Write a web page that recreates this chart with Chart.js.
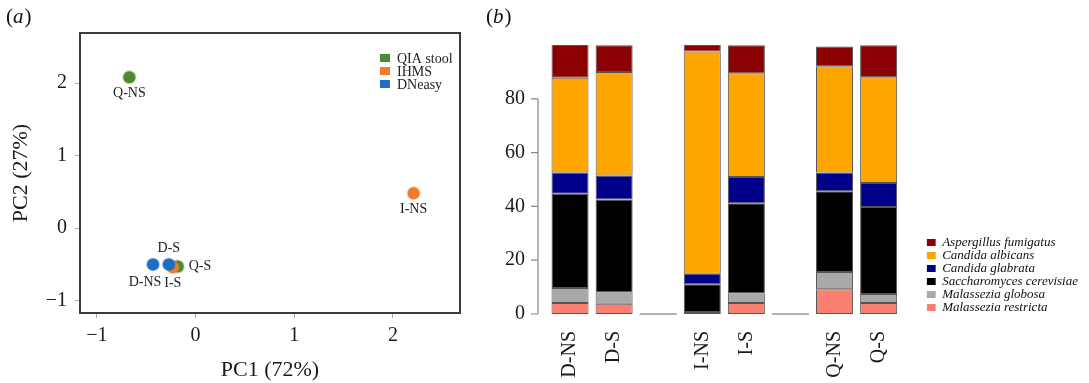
<!DOCTYPE html>
<html>
<head>
<meta charset="utf-8">
<script src="https://cdn.jsdelivr.net/npm/chart.js@4.4.0/dist/chart.umd.min.js"></script>
<style>
  html, body { margin: 0; padding: 0; background: #fff; }
  #wrap { position: relative; width: 1089px; height: 383px; }
  #pca { position: absolute; left: 0; top: 0; }
  #bars { position: absolute; left: 480px; top: 0; }
</style>
</head>
<body>
<div id="wrap">
  <canvas id="pca" width="480" height="383"></canvas>
  <canvas id="bars" width="609" height="383"></canvas>
</div>
<script>
// ---- panel (a): PCA of the samples
const sampleNames = ['Q-NS', 'I-NS', 'D-NS', 'D-S', 'I-S', 'Q-S']
const pc1 = [-0.67, 2.21, -0.43, -0.27, -0.23, -0.18]
const pc2 = [2.08, 0.48, -0.50, -0.50, -0.54, -0.53]
const sampleKit = ['QIA stool', 'IHMS', 'DNeasy', 'DNeasy', 'IHMS', 'QIA stool']
const kits = ['QIA stool', 'IHMS', 'DNeasy']
const kitColors = ['#4f8a2e', '#ee7b30', '#1c6fc2']
// where the name of each sample sits next to its dot
const labelSide = ['below', 'below', 'belowleft', 'above', 'below', 'right']

// ---- panel (b): relative abundance (%), stacked bottom to top
const barLabels = ['D-NS', 'D-S', '', 'I-NS', 'I-S', '', 'Q-NS', 'Q-S']
const species = ['Malassezia restricta', 'Malassezia globosa', 'Saccharomyces cerevisiae',
  'Candida glabrata', 'Candida albicans', 'Aspergillus fumigatus']
const restricta  = [4.1, 3.8, null, 0.7, 4.1, null, 9.2, 4.1]
const globosa    = [5.6, 4.2, null, null, 3.5, null, 6.4, 3.3]
const cerevisiae = [35.0, 34.6, null, 10.4, 33.6, null, 30.0, 32.4]
const glabrata   = [7.9, 8.9, null, 3.9, 9.7, null, 7.0, 8.9]
const albicans   = [35.2, 38.5, null, 82.6, 38.6, null, 39.5, 39.3]
const fumigatus  = [12.5, 9.9, null, 2.7, 10.4, null, 7.3, 11.9]
const speciesValues = [restricta, globosa, cerevisiae, glabrata, albicans, fumigatus]
const speciesColors = ['#fa8072', '#a9a9a9', '#000000', '#00008b', '#ffa500', '#8b0000']

const SERIF = "'Liberation Serif', 'Times New Roman', serif"
Chart.defaults.font.family = SERIF
Chart.defaults.color = '#1a1a1a'

function minus(v) {
  return String(v).replace('-', '\u2212')
}

// "(a)" / "(b)" with an italic letter
function panelTag(ctx, x, y, letter) {
  ctx.save()
  ctx.fillStyle = '#111'
  ctx.textBaseline = 'alphabetic'
  ctx.font = '21px ' + SERIF
  ctx.fillText('(', x, y)
  x += ctx.measureText('(').width
  ctx.font = 'italic 21px ' + SERIF
  ctx.fillText(letter, x, y)
  x += ctx.measureText(letter).width + 1
  ctx.font = '21px ' + SERIF
  ctx.fillText(')', x, y)
  ctx.restore()
}

// ---------- chart (a)
const pcaDatasets = kits.map((kit, k) => ({
  label: kit,
  data: pc1.map((x, i) => ({x: x, y: pc2[i], i: i})).filter(p => sampleKit[p.i] === kit),
  backgroundColor: kitColors[k],
  borderColor: kitColors[k] + '55',
  borderWidth: 2,
  pointRadius: 6,
  pointHoverRadius: 6,
  order: 3 - k,
}))

const pcaExtras = {
  id: 'pcaExtras',
  afterDraw(chart) {
    const ctx = chart.ctx
    const a = chart.chartArea
    ctx.save()
    // box round the plot
    ctx.strokeStyle = '#3c3c3c'
    ctx.lineWidth = 2
    ctx.strokeRect(a.left, a.top, a.right - a.left, a.bottom - a.top)

    // sample names
    ctx.font = '14px ' + SERIF
    ctx.fillStyle = '#222'
    ctx.textBaseline = 'middle'
    chart.data.datasets.forEach((ds, d) => {
      chart.getDatasetMeta(d).data.forEach((pt, j) => {
        const i = ds.data[j].i
        const side = labelSide[i]
        let x = pt.x, y = pt.y
        ctx.textAlign = 'center'
        if (side === 'below') y += 16
        if (side === 'above') y -= 16
        if (side === 'belowleft') { x -= 8; y += 18 }
        if (side === 'right') { x += 11; ctx.textAlign = 'left' }
        ctx.fillText(sampleNames[i], x, y)
      })
    })

    // legend in the top right corner
    ctx.textAlign = 'left'
    kits.forEach((kit, k) => {
      const y = a.top + 25 + k * 13
      ctx.fillStyle = kitColors[k]
      ctx.fillRect(a.right - 80, y - 4, 10, 8)
      ctx.fillStyle = '#222'
      ctx.fillText(kit, a.right - 63, y + 1)
    })
    ctx.restore()
    panelTag(ctx, 6, 23, 'a')
  }
}

new Chart(document.getElementById('pca').getContext('2d'), {
  type: 'scatter',
  data: {datasets: pcaDatasets},
  options: {
    responsive: false,
    animation: false,
    layout: {padding: {top: 33, right: 20, left: 0, bottom: 0}},
    plugins: {legend: {display: false}, tooltip: {enabled: false}},
    scales: {
      x: {
        min: -1.17, max: 2.68,
        ticks: {stepSize: 1, includeBounds: false, padding: 6, font: {size: 20}, callback: minus},
        grid: {drawOnChartArea: false, tickLength: 5, color: '#aaa'},
        border: {display: false},
        title: {display: true, text: 'PC1 (72%)', font: {size: 22}, padding: {top: 0, bottom: 0}},
        afterFit: s => { s.height = 70 },
      },
      y: {
        min: -1.17, max: 2.69,
        ticks: {stepSize: 1, includeBounds: false, padding: 8, font: {size: 20}, callback: minus},
        grid: {drawOnChartArea: false, tickLength: 5, color: '#aaa'},
        border: {display: false},
        title: {display: true, text: 'PC2 (27%)', font: {size: 22}, padding: {top: 8, bottom: 0}},
        afterFit: s => { s.width = 80 },
      },
    },
  },
  plugins: [pcaExtras],
})

// ---------- chart (b)
const barDatasets = species.map((name, s) => ({
  label: name,
  data: speciesValues[s],
  backgroundColor: speciesColors[s],
  borderColor: '#555',
  borderWidth: 1,
  borderSkipped: false,
  categoryPercentage: 1,
  barPercentage: 0.84,
}))

const barExtras = {
  id: 'barExtras',
  afterDraw(chart) {
    const ctx = chart.ctx
    const a = chart.chartArea
    const y = chart.scales.y
    const x = chart.scales.x
    ctx.save()
    // R style axis: line from 0 to the last tick only, a little off the bars
    const ax = a.left - 10
    const ticks = y.ticks.map(t => y.getPixelForValue(t.value))
    ctx.strokeStyle = '#888'
    ctx.lineWidth = 1.2
    ctx.beginPath()
    ctx.moveTo(ax, Math.max(...ticks))
    ctx.lineTo(ax, Math.min(...ticks))
    ticks.forEach(py => { ctx.moveTo(ax, py); ctx.lineTo(ax - 7, py) })
    ctx.stroke()

    // empty categories between the kits show only a base line
    const w = chart.getDatasetMeta(0).data[0].width
    const y0 = y.getPixelForValue(0)
    ctx.strokeStyle = '#999'
    ctx.lineWidth = 1.5
    barLabels.forEach((lab, i) => {
      if (lab !== '') return
      const cx = x.getPixelForValue(i)
      ctx.beginPath()
      ctx.moveTo(cx - w / 2, y0)
      ctx.lineTo(cx + w / 2, y0)
      ctx.stroke()
    })
    ctx.restore()
    panelTag(ctx, 6, 23, 'b')
  }
}

new Chart(document.getElementById('bars').getContext('2d'), {
  type: 'bar',
  data: {labels: barLabels, datasets: barDatasets},
  options: {
    responsive: false,
    animation: false,
    layout: {padding: {top: 45, right: 1, left: 0, bottom: 0}},
    plugins: {
      tooltip: {enabled: false},
      legend: {
        position: 'right',
        align: 'end',
        fullSize: false,
        reverse: true,
        maxWidth: 175,
        labels: {
          boxWidth: 9,
          boxHeight: 7,
          padding: 0,
          color: '#111',
          font: {size: 13, style: 'italic'},
          generateLabels: chart =>
            Chart.defaults.plugins.legend.labels.generateLabels(chart).map(l => ({...l, lineWidth: 0})),
        },
      },
    },
    scales: {
      x: {
        stacked: true,
        grid: {display: false},
        border: {display: false},
        ticks: {minRotation: 90, maxRotation: 90, autoSkip: false, padding: 9, font: {size: 20}},
        afterFit: s => { s.height = 69 },
      },
      y: {
        stacked: true,
        min: 0, max: 100,
        afterBuildTicks: s => { s.ticks = s.ticks.filter(t => t.value <= 80) },
        ticks: {stepSize: 20, padding: 23, font: {size: 20}},
        grid: {display: false, drawTicks: false, tickLength: 0},
        border: {display: false},
        afterFit: s => { s.width = 68 },
      },
      gap: {
        type: 'linear',
        position: 'right',
        grid: {display: false, drawTicks: false},
        border: {display: false},
        ticks: {display: false},
        afterFit: s => { s.width = 26 },
      },
    },
  },
  plugins: [barExtras],
})
</script>
</body>
</html>
